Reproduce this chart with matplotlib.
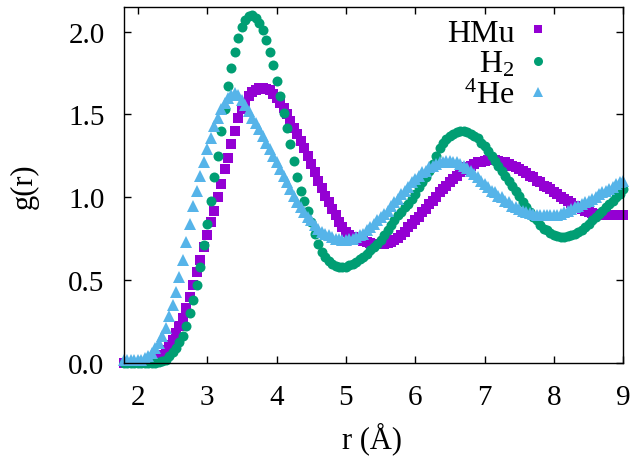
import numpy as np
import matplotlib
matplotlib.use('Agg')
import matplotlib.pyplot as plt
from matplotlib.ticker import FormatStrFormatter

plt.rcParams['font.family'] = ['Liberation Serif', 'DejaVu Serif']
plt.rcParams['mathtext.fontset'] = 'custom'
plt.rcParams['mathtext.rm'] = 'Liberation Serif'
plt.rcParams['mathtext.it'] = 'Liberation Serif:italic'

# --------------------------------------------------------------
# Data: g(r) sampled every 0.05 A from 1.80 to 9.00
# --------------------------------------------------------------

r = np.round(np.arange(1.80, 9.001, 0.05), 2)

g_hmu = [
    0.0, 0.0, 0.0, 0.0, 0.0, 0.0, 0.0, 0.0, 0.005, 0.01,
    0.03, 0.05, 0.08, 0.11, 0.14, 0.18, 0.22, 0.27, 0.33, 0.40,
    0.47, 0.55, 0.62, 0.70, 0.77, 0.85, 0.92, 1.00, 1.08, 1.17,
    1.24, 1.32, 1.40, 1.48, 1.53, 1.57, 1.61, 1.635, 1.65, 1.66,
    1.66, 1.655, 1.645, 1.625, 1.60, 1.57, 1.54, 1.50, 1.46, 1.42,
    1.38, 1.34, 1.30, 1.25, 1.20, 1.15, 1.10, 1.055, 1.01, 0.97,
    0.93, 0.89, 0.85, 0.82, 0.79, 0.775, 0.76, 0.75, 0.74, 0.735,
    0.73, 0.725, 0.72, 0.72, 0.72, 0.72, 0.725, 0.73, 0.74, 0.755,
    0.77, 0.79, 0.82, 0.84, 0.86, 0.88, 0.91, 0.93, 0.96, 0.98,
    1.00, 1.03, 1.05, 1.07, 1.09, 1.11, 1.13, 1.15, 1.165, 1.18,
    1.19, 1.20, 1.21, 1.215, 1.22, 1.225, 1.225, 1.225, 1.22, 1.215,
    1.21, 1.20, 1.19, 1.18, 1.17, 1.16, 1.145, 1.13, 1.12, 1.10,
    1.09, 1.07, 1.06, 1.05, 1.03, 1.02, 1.00, 0.99, 0.98, 0.965,
    0.95, 0.94, 0.93, 0.92, 0.91, 0.905, 0.90, 0.895, 0.89, 0.89,
    0.89, 0.89, 0.89, 0.89, 0.89,
]

g_h2 = [
    0.0, 0.0, 0.0, 0.0, 0.0, 0.0, 0.0, 0.0, 0.0, 0.0,
    0.005, 0.01, 0.02, 0.04, 0.065, 0.09, 0.125, 0.165, 0.22, 0.30,
    0.38, 0.47, 0.58, 0.71, 0.84, 0.98, 1.12, 1.25, 1.40, 1.53,
    1.67, 1.78, 1.88, 1.96, 2.03, 2.07, 2.095, 2.10, 2.08, 2.05,
    2.01, 1.95, 1.88, 1.80, 1.70, 1.61, 1.51, 1.42, 1.32, 1.22,
    1.12, 1.04, 0.98, 0.92, 0.85, 0.78, 0.72, 0.67, 0.64, 0.615,
    0.595, 0.585, 0.58, 0.58, 0.58, 0.59, 0.60, 0.61, 0.63, 0.64,
    0.66, 0.68, 0.70, 0.72, 0.74, 0.77, 0.80, 0.83, 0.86, 0.89,
    0.91, 0.94, 0.96, 0.99, 1.02, 1.06, 1.09, 1.12, 1.16, 1.20,
    1.25, 1.30, 1.33, 1.35, 1.37, 1.385, 1.395, 1.40, 1.40, 1.395,
    1.385, 1.37, 1.355, 1.33, 1.31, 1.28, 1.25, 1.22, 1.19, 1.16,
    1.13, 1.10, 1.07, 1.04, 1.01, 0.97, 0.94, 0.91, 0.88, 0.86,
    0.83, 0.81, 0.80, 0.785, 0.775, 0.765, 0.76, 0.76, 0.765, 0.77,
    0.78, 0.79, 0.80, 0.82, 0.84, 0.86, 0.88, 0.90, 0.92, 0.94,
    0.96, 0.98, 1.00, 1.02, 1.05,
]

g_he = [
    0.02, 0.02, 0.02, 0.02, 0.02, 0.02, 0.03, 0.04, 0.06, 0.09,
    0.12, 0.16, 0.21, 0.28, 0.35, 0.43, 0.52, 0.62, 0.73, 0.84,
    0.95, 1.04, 1.13, 1.21, 1.29, 1.36, 1.43, 1.48, 1.53, 1.57,
    1.60, 1.62, 1.63, 1.62, 1.59, 1.56, 1.52, 1.48, 1.45, 1.41,
    1.37, 1.33, 1.29, 1.25, 1.21, 1.17, 1.13, 1.09, 1.05, 1.01,
    0.97, 0.94, 0.91, 0.88, 0.86, 0.83, 0.81, 0.79, 0.78, 0.77,
    0.76, 0.75, 0.745, 0.74, 0.74, 0.745, 0.75, 0.76, 0.77, 0.78,
    0.80, 0.82, 0.84, 0.86, 0.88, 0.90, 0.92, 0.95, 0.97, 0.99,
    1.02, 1.04, 1.06, 1.09, 1.11, 1.13, 1.15, 1.16, 1.18, 1.19,
    1.20, 1.21, 1.215, 1.22, 1.22, 1.215, 1.21, 1.20, 1.19, 1.175,
    1.16, 1.14, 1.12, 1.10, 1.08, 1.06, 1.04, 1.03, 1.01, 1.00,
    0.98, 0.97, 0.95, 0.94, 0.93, 0.92, 0.91, 0.905, 0.90, 0.895,
    0.89, 0.89, 0.89, 0.89, 0.89, 0.895, 0.90, 0.91, 0.92, 0.93,
    0.94, 0.95, 0.96, 0.97, 0.98, 0.99, 1.00, 1.02, 1.03, 1.04,
    1.05, 1.06, 1.08, 1.09, 1.10,
]

labels = ['HMu', 'H$_2$', '$^4$He']
colors = ['#9400d3', '#009e73', '#56b4e9']
markers = ['s', 'o', '^']
msizes = [6.6, 7.2, 8.0]

x_ticks = [2, 3, 4, 5, 6, 7, 8, 9]
y_ticks = [0.0, 0.5, 1.0, 1.5, 2.0]

# --------------------------------------------------------------
# Plot
# --------------------------------------------------------------

fig, ax = plt.subplots(figsize=(6.36, 4.6), dpi=100)
fig.subplots_adjust(left=0.195, right=0.98, bottom=0.209, top=0.983)

for g, lab, c, m, s in zip([g_hmu, g_h2, g_he], labels, colors, markers, msizes):
    ax.plot(r, g, linestyle='none', marker=m, ms=s, mew=0, color=c,
            label=lab, clip_on=False)

ax.set_xlim(1.8, 9.0)
ax.set_ylim(0.0, 2.15)
ax.set_xticks(x_ticks)
ax.set_yticks(y_ticks)
ax.yaxis.set_major_formatter(FormatStrFormatter('%.1f'))
ax.tick_params(direction='in', top=True, right=True, length=5, width=1,
               labelsize=21)
ax.tick_params(axis='x', pad=15)
ax.tick_params(axis='y', pad=14)
for sp in ax.spines.values():
    sp.set_linewidth(1.0)

ax.set_xlabel('r (Å)', fontsize=22)
ax.set_ylabel('g(r)', fontsize=22)
ax.xaxis.set_label_coords(0.497, -0.165)
ax.yaxis.set_label_coords(-0.17, 0.5)

ax.legend(loc='upper right', bbox_to_anchor=(0.884, 1.004), frameon=False,
          markerfirst=False, fontsize=23, handlelength=0.9, handletextpad=0.3,
          labelspacing=0.06, markerscale=0.9, borderaxespad=0, borderpad=0.4)

fig.savefig('out.png', dpi=100)
